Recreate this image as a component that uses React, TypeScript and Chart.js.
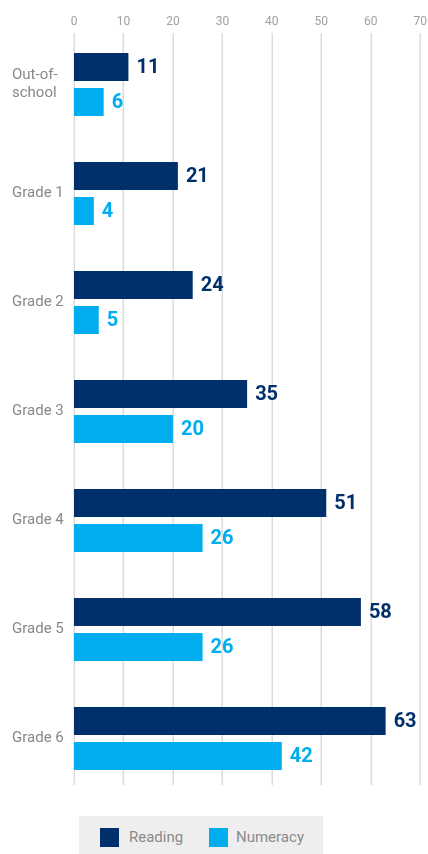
import React, { useEffect, useRef } from "react";
import { Chart, registerables } from "chart.js";

Chart.register(...registerables);

const categories: (string | string[])[] = [
  ["Out-of-", "school"],
  "Grade 1",
  "Grade 2",
  "Grade 3",
  "Grade 4",
  "Grade 5",
  "Grade 6",
];
const readingValues = [11, 21, 24, 35, 51, 58, 63];
const numeracyValues = [6, 4, 5, 20, 26, 26, 42];
const xTicks = [0, 10, 20, 30, 40, 50, 60, 70];

const READING = "#00306b";
const NUMERACY = "#00aeef";
const FONT = "Roboto, 'Liberation Sans', sans-serif";

const gridLines = {
  id: "gridLines",
  beforeDatasetsDraw(chart: any) {
    const ctx = chart.ctx;
    const xs = chart.scales.x;
    const area = chart.chartArea;
    ctx.save();
    ctx.strokeStyle = "#dcdcdc";
    ctx.lineWidth = 1.5;
    xs.ticks.forEach((t: any) => {
      const px = Math.round(xs.getPixelForValue(t.value)) + 0.25;
      ctx.beginPath();
      ctx.moveTo(px, area.top + 3);
      ctx.lineTo(px, 785);
      ctx.stroke();
    });
    ctx.restore();
  },
};

const valueLabels = {
  id: "valueLabels",
  afterDatasetsDraw(chart: any) {
    const ctx = chart.ctx;
    ctx.save();
    ctx.font = `bold 20px ${FONT}`;
    ctx.textBaseline = "middle";
    ctx.textAlign = "left";
    chart.data.datasets.forEach((ds: any, di: number) => {
      const meta = chart.getDatasetMeta(di);
      ctx.fillStyle = ds.backgroundColor;
      meta.data.forEach((bar: any, i: number) => {
        ctx.fillText(String(ds.data[i]), bar.x + 8, bar.y + 1);
      });
    });
    ctx.restore();
  },
};

export default function App() {
  const ref = useRef<HTMLCanvasElement | null>(null);
  useEffect(() => {
    if (!ref.current) return;
    const chart = new Chart(ref.current, {
      type: "bar",
      data: {
        labels: categories,
        datasets: [
          { label: "Reading", data: readingValues, backgroundColor: READING },
          { label: "Numeracy", data: numeracyValues, backgroundColor: NUMERACY },
        ],
      },
      options: {
        indexAxis: "y",
        animation: false,
        responsive: false,
        maintainAspectRatio: false,
        layout: { padding: { left: 12, right: 0, top: 0, bottom: 7 } },
        datasets: { bar: { categoryPercentage: 0.642, barPercentage: 0.8 } },
        plugins: { legend: { display: false }, tooltip: { enabled: false } },
        scales: {
          x: {
            position: "top",
            min: 0,
            max: 70,
            afterBuildTicks: (s: any) => {
              s.ticks = xTicks.map((v) => ({ value: v }));
            },
            afterFit: (s: any) => {
              s.height = 30;
            },
            grid: { display: false, drawTicks: false },
            border: { display: false },
            ticks: { color: "#a0a0a0", font: { family: FONT, size: 12 }, padding: 1 },
          },
          y: {
            afterFit: (s: any) => {
              s.width = 62;
            },
            grid: { display: false },
            border: { display: false },
            ticks: {
              color: "#888888",
              crossAlign: "far",
              font: { family: FONT, size: 15 },
            },
          },
        },
      },
      plugins: [gridLines, valueLabels],
    });
    return () => chart.destroy();
  }, []);

  return (
    <div style={{ position: "absolute", left: 0, top: 0, width: 428, height: 854, background: "#fff" }}>
      <canvas ref={ref} width={428} height={814} style={{ position: "absolute", left: 0, top: 0 }} />
      <div
        style={{
          position: "absolute",
          left: 79,
          top: 816,
          width: 244,
          height: 38,
          background: "#eeeeee",
          fontFamily: FONT,
          fontSize: 15,
          color: "#8a8a8a",
        }}
      >
        <div style={{ position: "absolute", left: 21, top: 12, width: 19, height: 19, background: READING }} />
        <div style={{ position: "absolute", left: 50, top: 12, lineHeight: "19px" }}>Reading</div>
        <div style={{ position: "absolute", left: 130, top: 12, width: 19, height: 19, background: NUMERACY }} />
        <div style={{ position: "absolute", left: 157, top: 12, lineHeight: "19px" }}>Numeracy</div>
      </div>
    </div>
  );
}
